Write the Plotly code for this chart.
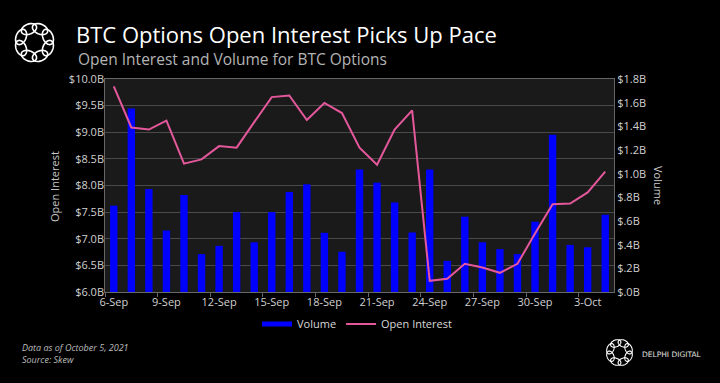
import math
import plotly.graph_objects as go

# ---------------- data ----------------
dates = ["6-Sep", "7-Sep", "8-Sep", "9-Sep", "10-Sep", "11-Sep", "12-Sep", "13-Sep",
         "14-Sep", "15-Sep", "16-Sep", "17-Sep", "18-Sep", "19-Sep", "20-Sep", "21-Sep",
         "22-Sep", "23-Sep", "24-Sep", "25-Sep", "26-Sep", "27-Sep", "28-Sep", "29-Sep",
         "30-Sep", "1-Oct", "2-Oct", "3-Oct", "4-Oct"]
volume_b = [0.73, 1.55, 0.87, 0.52, 0.82, 0.32, 0.39, 0.675, 0.42, 0.675, 0.845, 0.91,
            0.50, 0.34, 1.035, 0.924, 0.757, 0.503, 1.035, 0.263, 0.636, 0.42, 0.362,
            0.32, 0.594, 1.328, 0.398, 0.378, 0.653]
open_interest_b = [9.86, 9.09, 9.05, 9.22, 8.41, 8.49, 8.74, 8.71, 9.19, 9.66, 9.69, 9.23,
                   9.55, 9.36, 8.71, 8.39, 9.05, 9.41, 6.21, 6.25, 6.53, 6.46, 6.36,
                   6.53, 7.10, 7.65, 7.66, 7.87, 8.26]

oi_tickvals = [6.0, 6.5, 7.0, 7.5, 8.0, 8.5, 9.0, 9.5, 10.0]
oi_ticktext = ["$6.0B", "$6.5B", "$7.0B", "$7.5B", "$8.0B", "$8.5B", "$9.0B", "$9.5B", "$10.0B"]
vol_tickvals = [0.0, 0.2, 0.4, 0.6, 0.8, 1.0, 1.2, 1.4, 1.6, 1.8]
vol_ticktext = ["$.0B", "$.2B", "$.4B", "$.6B", "$.8B", "$1.0B", "$1.2B", "$1.4B", "$1.6B", "$1.8B"]

# ---------------- layout helpers ----------------
W, H = 720, 383
ML, MR, MT, MB = 105, 106, 79, 91
PW, PH = W - ML - MR, H - MT - MB


def px(x):
    return (x - ML) / PW


def py(y):
    return (H - MB - y) / PH


FONT = "Open Sans"
BLUE = "#0000ff"
PINK = "#e4589b"

fig = go.Figure()
fig.add_trace(go.Bar(x=dates, y=volume_b, name="Volume", marker_color=BLUE,
                     marker_line_width=0, yaxis="y", showlegend=False))
# legend-only entry to get a wide, flat swatch for Volume
fig.add_trace(go.Scatter(x=[None], y=[None], name="Volume", mode="lines",
                         line=dict(color=BLUE, width=5), yaxis="y", hoverinfo="skip"))
fig.add_trace(go.Scatter(x=dates, y=open_interest_b, name="Open Interest", mode="lines",
                         line=dict(color=PINK, width=2), yaxis="y2"))


def logo_shapes(cx, cy, r0, a, b, n, width):
    shapes = []
    for k in range(n):
        th = 2 * math.pi * k / n + math.pi / n
        ex, ey = cx + r0 * math.cos(th), cy + r0 * math.sin(th)
        pts = []
        for j in range(49):
            t = 2 * math.pi * j / 48
            u, v = a * math.cos(t), b * math.sin(t)
            tx, ty = -math.sin(th), math.cos(th)
            rx, ry = math.cos(th), math.sin(th)
            X = ex + u * tx + v * rx
            Y = ey + u * ty + v * ry
            pts.append((px(X), py(Y)))
        path = "M " + " L ".join(f"{p[0]:.5f},{p[1]:.5f}" for p in pts) + " Z"
        shapes.append(dict(type="path", xref="paper", yref="paper", path=path,
                           line=dict(color="white", width=width), fillcolor="rgba(0,0,0,0)"))
    return shapes


shapes = (logo_shapes(34.5, 42.5, 14.5, 8.0, 5.0, 8, 1.6)
          + logo_shapes(619.5, 352.5, 9.8, 5.4, 3.4, 8, 1.1))

annotations = [
    dict(text="Open Interest and Volume for BTC Options", x=px(76), y=py(59), xref="paper",
         yref="paper", xanchor="left", yanchor="middle", showarrow=False,
         font=dict(family=FONT, size=15.5, color="#b4b4b4")),
    dict(text="Open Interest", x=px(54), y=py(187), xref="paper", yref="paper", textangle=-90,
         xanchor="center", yanchor="middle", showarrow=False,
         font=dict(family=FONT, size=11, color="#c8c8c8")),
    dict(text="Volume", x=px(659), y=py(185), xref="paper", yref="paper", textangle=90,
         xanchor="center", yanchor="middle", showarrow=False,
         font=dict(family=FONT, size=11, color="#c8c8c8")),
    dict(text="<i>Data as of October 5, 2021</i><br><i>Source: Skew</i>", x=px(20), y=py(353),
         xref="paper", yref="paper", xanchor="left", yanchor="middle", align="left",
         showarrow=False, font=dict(family=FONT, size=9, color="#bdbdbd")),
    dict(text="DELPHI DIGITAL", x=px(640), y=py(354), xref="paper", yref="paper",
         xanchor="left", yanchor="middle", showarrow=False,
         font=dict(family="DejaVu Sans", size=7.5, color="#e0e0e0")),
]

fig.update_layout(
    width=W, height=H,
    margin=dict(l=ML, r=MR, t=MT, b=MB),
    paper_bgcolor="black", plot_bgcolor="#1a1a1a",
    font=dict(family=FONT, color="#d0d0d0", size=11),
    title=dict(text="BTC Options Open Interest Picks Up Pace", x=76 / W, xanchor="left",
               y=1 - 35.5 / H, yanchor="middle", yref="container",
               font=dict(family=FONT, size=22, color="white")),
    bargap=0.58,
    showlegend=True,
    legend=dict(orientation="h", x=px(357), xanchor="center", y=py(324), yanchor="middle",
                font=dict(size=11, color="#d8d8d8"), bgcolor="rgba(0,0,0,0)",
                traceorder="normal", itemwidth=30, tracegroupgap=0),
    xaxis=dict(type="category", tickmode="linear", tick0=0, dtick=3, tickson="boundaries",
               ticks="outside", ticklen=4, tickcolor="#666", showgrid=False, tickangle=0,
               showline=True, linecolor="#666", linewidth=1, mirror=True,
               tickfont=dict(size=11, color="#d0d0d0"), range=[-0.5, 28.5]),
    yaxis=dict(side="right", range=[0, 1.8], tickmode="array", tickvals=vol_tickvals,
               ticktext=vol_ticktext, showgrid=False, zeroline=False, showline=True,
               linecolor="#666", mirror=True, ticks="", tickfont=dict(size=11, color="#d0d0d0")),
    yaxis2=dict(side="left", overlaying="y", range=[6.0, 10.0], tickmode="array",
                tickvals=oi_tickvals, ticktext=oi_ticktext, showgrid=True,
                gridcolor="#4a4a4a", gridwidth=1, zeroline=False, ticks="",
                tickfont=dict(size=11, color="#d0d0d0")),
    shapes=shapes,
    annotations=annotations,
)

fig.write_html("out.html", config={"displayModeBar": False},
               post_script="document.body.style.margin='0';document.body.style.background='black';")
